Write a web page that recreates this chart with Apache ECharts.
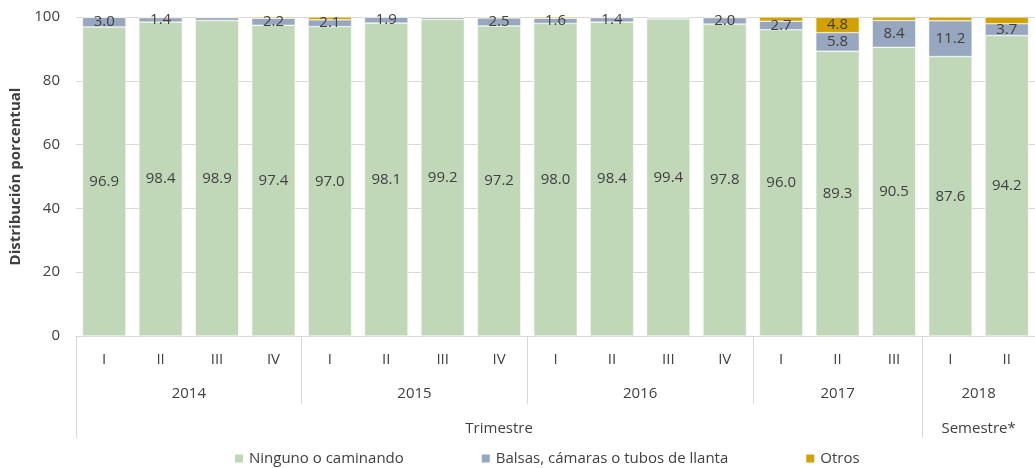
<!DOCTYPE html>
<html>
<head>
<meta charset="utf-8">
<script src="https://cdn.jsdelivr.net/npm/echarts@6/dist/echarts.min.js"></script>
<style>
  html, body { margin: 0; padding: 0; background: #fff; }
  #chart { width: 1035px; height: 468px; }
</style>
</head>
<body>
<div id="chart"></div>
<script>
// periodos (trimestres / semestres)
var periodos = ['I', 'II', 'III', 'IV', 'I', 'II', 'III', 'IV', 'I', 'II', 'III', 'IV', 'I', 'II', 'III', 'I', 'II'];
// años: posicion central del grupo (en unidades de categoria) y etiqueta
var anioCentros = [2, 6, 10, 13.5, 16];
var anioLabels = ['2014', '2015', '2016', '2017', '2018'];
var anioLimites = [0, 4, 8, 12, 15];
// tipo de periodo
var tipoCentros = [7.5, 16];
var tipoLabels = ['Trimestre', 'Semestre*'];
var tipoLimites = [0, 15];

var ninguno = [96.9, 98.4, 98.9, 97.4, 97.0, 98.1, 99.2, 97.2, 98.0, 98.4, 99.4, 97.8, 96.0, 89.3, 90.5, 87.6, 94.2];
var balsas = [3.0, 1.4, 0.9, 2.2, 2.1, 1.9, 0.6, 2.5, 1.6, 1.4, 0.4, 2.0, 2.7, 5.8, 8.4, 11.2, 3.7];
var otros = [0.1, 0.2, 0.2, 0.4, 0.9, 0.0, 0.2, 0.3, 0.4, 0.2, 0.2, 0.2, 1.3, 4.8, 1.1, 1.2, 2.1];

var textColor = '#404040';
var font = 'Open Sans';
var fs = 15;

var myChart = echarts.init(document.getElementById('chart'), null, { renderer: 'canvas' });

function lookup(centros, labels) {
  return function (v) {
    for (var i = 0; i < centros.length; i++) {
      if (Math.abs(centros[i] - v) < 0.01) return labels[i];
    }
    return '';
  };
}

// eje auxiliar de valores 0..17 alineado con las categorias
function ejeAux(centros, labels, limites, tickLen, margin) {
  return {
    type: 'value',
    position: 'bottom',
    min: 0,
    max: periodos.length,
    axisLine: { show: false },
    splitLine: { show: false },
    axisTick: {
      show: true,
      customValues: limites,
      length: tickLen,
      lineStyle: { color: '#d9d9d9', width: 1 }
    },
    axisLabel: {
      customValues: centros,
      formatter: lookup(centros, labels),
      margin: margin,
      color: textColor,
      fontFamily: font,
      fontSize: fs
    }
  };
}

function etiqueta(umbral) {
  return {
    show: true,
    position: 'inside',
    color: textColor,
    fontFamily: font,
    fontSize: fs,
    formatter: function (p) {
      return p.value >= umbral ? p.value.toFixed(1) : '';
    }
  };
}

var option = {
  animation: false,
  color: ['#c1d8b8', '#97a7bf', '#d2a100'],
  grid: { left: 76, right: -13, top: 17, bottom: 132 },
  legend: {
    bottom: -3,
    left: 228,
    itemWidth: 10,
    itemHeight: 10,
    itemGap: 76,
    icon: 'rect',
    textStyle: { color: textColor, fontFamily: font, fontSize: fs },
    data: ['Ninguno o caminando', 'Balsas, cámaras o tubos de llanta', 'Otros']
  },
  xAxis: [
    {
      type: 'category',
      data: periodos,
      axisLine: { show: true, lineStyle: { color: '#d9d9d9' } },
      axisTick: { show: false },
      axisLabel: { color: textColor, fontFamily: font, fontSize: fs, margin: 16 }
    },
    ejeAux(anioCentros, anioLabels, anioLimites, 68, 50),
    ejeAux(tipoCentros, tipoLabels, tipoLimites, 102, 85)
  ],
  yAxis: {
    type: 'value',
    min: 0,
    max: 100,
    interval: 20,
    name: 'Distribución porcentual',
    nameLocation: 'middle',
    nameGap: 50,
    nameTextStyle: { color: textColor, fontFamily: font, fontSize: fs, fontWeight: 'bold' },
    axisLine: { show: false },
    axisTick: { show: false },
    axisLabel: { color: textColor, fontFamily: font, fontSize: fs, margin: 16 },
    splitLine: { lineStyle: { color: '#d9d9d9' } }
  },
  series: [
    {
      name: 'Ninguno o caminando',
      type: 'bar',
      stack: 'total',
      barCategoryGap: '23%',
      data: ninguno,
      label: etiqueta(0),
      itemStyle: { borderColor: '#fff', borderWidth: 0.5 }
    },
    {
      name: 'Balsas, cámaras o tubos de llanta',
      type: 'bar',
      stack: 'total',
      data: balsas,
      label: etiqueta(1),
      itemStyle: { borderColor: '#fff', borderWidth: 0.5 }
    },
    {
      name: 'Otros',
      type: 'bar',
      stack: 'total',
      data: otros,
      label: etiqueta(3),
      itemStyle: { borderColor: '#fff', borderWidth: 0.5 }
    }
  ]
};

myChart.setOption(option, true);
</script>
</body>
</html>
